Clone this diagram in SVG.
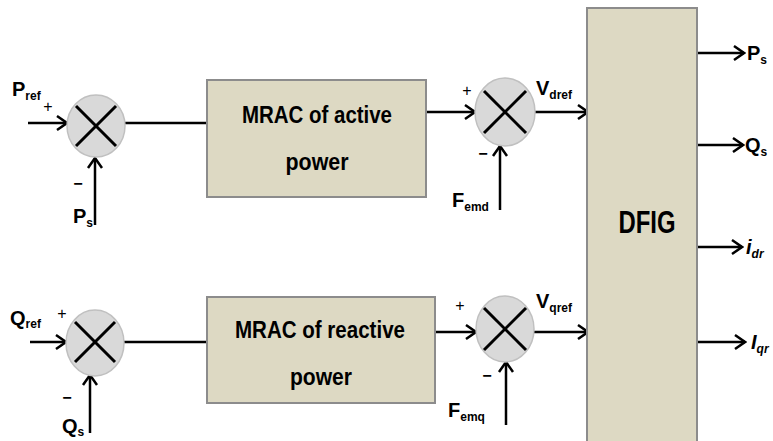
<svg xmlns="http://www.w3.org/2000/svg" width="773" height="441" viewBox="0 0 773 441">
<defs>
<style>
.blk{fill:#ddd9c3;stroke:#8c8c8c;stroke-width:2}
.sum{fill:#d9d9d9;stroke:#c0c0c0;stroke-width:1.5}
.x{stroke:#000;stroke-width:3;stroke-linecap:butt}
.w{stroke:#000;stroke-width:2.5;fill:none}
.a{stroke:#000;stroke-width:2.5;fill:none;marker-end:url(#ah)}
.t{font-family:"Liberation Sans",Arial,sans-serif;font-weight:bold;fill:#000}
.lb{font-family:"Liberation Sans",Arial,sans-serif;font-weight:bold;font-size:20px;fill:#000}
.sb{font-size:12px}
.pm{font-family:"Liberation Sans",Arial,sans-serif;font-size:16px;fill:#000}
</style>
<marker id="ah" markerUnits="userSpaceOnUse" markerWidth="14" markerHeight="18" viewBox="0 0 14 18" refX="12" refY="9" orient="auto">
<path d="M2,2 L12,9 L2,16" fill="none" stroke="#000" stroke-width="2.5"/>
</marker>
</defs>

<g id="connectors">
<line class="a" x1="28" y1="123" x2="67" y2="123"/>
<line class="a" x1="95" y1="225" x2="95" y2="158"/>
<line class="w" x1="125" y1="123" x2="207" y2="123"/>
<line class="a" x1="426" y1="112" x2="475" y2="112"/>
<line class="a" x1="535" y1="112" x2="588" y2="112"/>
<line class="a" x1="500" y1="210" x2="500" y2="146"/>

<line class="a" x1="30" y1="342" x2="66" y2="342"/>
<line class="a" x1="90" y1="433" x2="90" y2="375"/>
<line class="w" x1="124" y1="342" x2="207" y2="342"/>
<line class="a" x1="435" y1="332" x2="476" y2="332"/>
<line class="a" x1="534" y1="332" x2="588" y2="332"/>
<line class="a" x1="506" y1="425" x2="506" y2="362"/>

<line class="a" x1="697" y1="53" x2="744" y2="53"/>
<line class="a" x1="697" y1="145" x2="743" y2="145"/>
<line class="a" x1="697" y1="247" x2="742" y2="247"/>
<line class="a" x1="698" y1="342" x2="745" y2="342"/>
</g>

<g id="sum1">
<ellipse class="sum" cx="96" cy="126" rx="29" ry="31"/>
<line class="x" x1="76" y1="106" x2="116" y2="146"/>
<line class="x" x1="116" y1="106" x2="76" y2="146"/>
</g>
<g id="sum2">
<ellipse class="sum" cx="505" cy="112" rx="30" ry="34"/>
<line class="x" x1="484" y1="91" x2="526" y2="133"/>
<line class="x" x1="526" y1="91" x2="484" y2="133"/>
</g>
<g id="sum3">
<ellipse class="sum" cx="95" cy="343" rx="29" ry="33"/>
<line class="x" x1="75" y1="322" x2="115" y2="362"/>
<line class="x" x1="115" y1="322" x2="75" y2="362"/>
</g>
<g id="sum4">
<ellipse class="sum" cx="505" cy="329" rx="29" ry="33"/>
<line class="x" x1="484" y1="308" x2="526" y2="350"/>
<line class="x" x1="526" y1="308" x2="484" y2="350"/>
</g>

<g id="mrac-active">
<rect class="blk" x="207" y="80" width="219" height="117"/>
<text class="t" x="317" y="123" font-size="24" text-anchor="middle" textLength="150" lengthAdjust="spacingAndGlyphs">MRAC of active</text>
<text class="t" x="317" y="170" font-size="24" text-anchor="middle" textLength="63" lengthAdjust="spacingAndGlyphs">power</text>
</g>
<g id="mrac-reactive">
<rect class="blk" x="207" y="297" width="228" height="106"/>
<text class="t" x="320" y="338" font-size="24" text-anchor="middle" textLength="170" lengthAdjust="spacingAndGlyphs">MRAC of reactive</text>
<text class="t" x="321" y="385" font-size="24" text-anchor="middle" textLength="62" lengthAdjust="spacingAndGlyphs">power</text>
</g>
<g id="dfig">
<rect class="blk" x="587" y="8" width="110" height="440"/>
<text class="t" x="647" y="233" font-size="32" text-anchor="middle" textLength="57" lengthAdjust="spacingAndGlyphs">DFIG</text>
</g>

<g id="labels">
<text class="lb" x="12" y="96">P<tspan class="sb" dy="4">ref</tspan></text>
<text class="pm" x="48" y="112" text-anchor="middle">+</text>
<text class="pm" x="78" y="189" text-anchor="middle" font-weight="bold">−</text>
<text class="lb" x="73" y="223">P<tspan class="sb" dy="4">s</tspan></text>

<text class="lb" x="536" y="95">V<tspan class="sb" dy="4">dref</tspan></text>
<text class="pm" x="467" y="96" text-anchor="middle">+</text>
<text class="pm" x="483" y="159" text-anchor="middle" font-weight="bold">−</text>
<text class="lb" x="452" y="207">F<tspan class="sb" dy="4">emd</tspan></text>

<text class="lb" x="10" y="325">Q<tspan class="sb" dy="3">ref</tspan></text>
<text class="pm" x="62" y="319" text-anchor="middle">+</text>
<text class="pm" x="67" y="403" text-anchor="middle" font-weight="bold">−</text>
<text class="lb" x="62" y="433">Q<tspan class="sb" dy="3">s</tspan></text>

<text class="lb" x="536" y="308">V<tspan class="sb" dy="4">qref</tspan></text>
<text class="pm" x="460" y="311" text-anchor="middle">+</text>
<text class="pm" x="487" y="381" text-anchor="middle" font-weight="bold">−</text>
<text class="lb" x="448" y="417">F<tspan class="sb" dy="4">emq</tspan></text>

<text class="lb" x="747" y="60">P<tspan class="sb" dy="4">s</tspan></text>
<text class="lb" x="745" y="152">Q<tspan class="sb" dy="4">s</tspan></text>
<text class="lb" x="746" y="254" font-style="italic">i<tspan class="sb" dy="4">dr</tspan></text>
<text class="lb" x="751" y="349" font-style="italic">I<tspan class="sb" dy="4">qr</tspan></text>
</g>
</svg>
